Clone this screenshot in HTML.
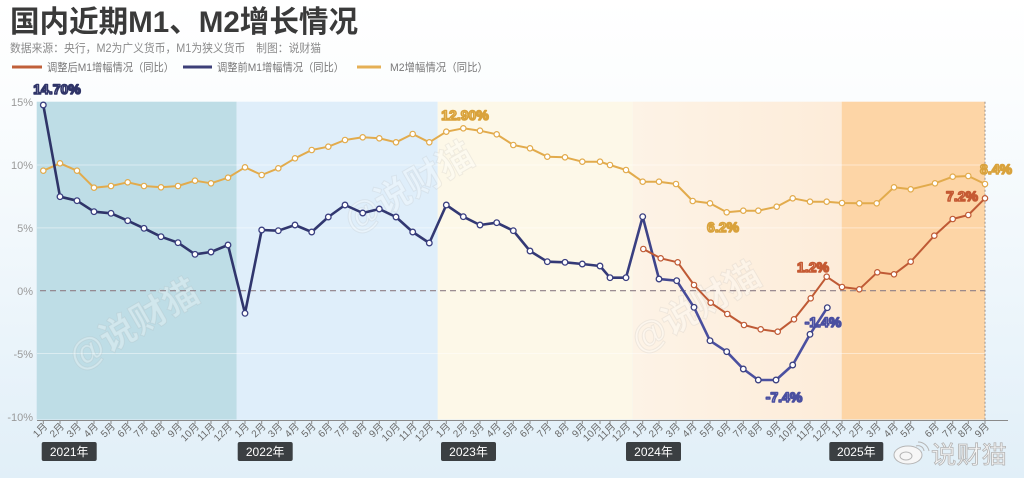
<!DOCTYPE html>
<html><head><meta charset="utf-8"><style>
html,body{margin:0;padding:0;width:1024px;height:478px;overflow:hidden;background:#fff}
svg{display:block;font-family:"Liberation Sans","Noto Sans CJK SC",sans-serif}
</style></head><body>
<svg width="1024" height="478" viewBox="0 0 1024 478" xmlns="http://www.w3.org/2000/svg">
<defs>
<linearGradient id="bg" x1="0" y1="0" x2="0" y2="1">
<stop offset="0" stop-color="#ffffff"/><stop offset="0.2" stop-color="#fbfdfe"/><stop offset="1" stop-color="#e1eff8"/>
</linearGradient>
<linearGradient id="g24" x1="0" y1="0" x2="1" y2="0">
<stop offset="0" stop-color="#fdf3e6"/><stop offset="1" stop-color="#fdecd9"/>
</linearGradient>
<linearGradient id="blu" x1="0" y1="0" x2="1024" y2="0" gradientUnits="userSpaceOnUse">
<stop offset="0" stop-color="#2e3366"/><stop offset="0.6" stop-color="#343a78"/><stop offset="0.68" stop-color="#4a4f9e"/><stop offset="1" stop-color="#4d52a6"/>
</linearGradient>
<marker id="mg" markerWidth="8" markerHeight="8" refX="4" refY="4" markerUnits="userSpaceOnUse"><circle cx="4" cy="4" r="2.7" fill="#fff" stroke="#e2ab4c" stroke-width="1.2"/></marker>
<marker id="mb" markerWidth="8" markerHeight="8" refX="4" refY="4" markerUnits="userSpaceOnUse"><circle cx="4" cy="4" r="2.8" fill="#fff" stroke="#3a3f80" stroke-width="1.3"/></marker>
<marker id="mr" markerWidth="8" markerHeight="8" refX="4" refY="4" markerUnits="userSpaceOnUse"><circle cx="4" cy="4" r="2.7" fill="#fff" stroke="#bf5a35" stroke-width="1.2"/></marker>
</defs>
<rect width="1024" height="478" fill="url(#bg)"/>

<!-- title -->
<text x="10" y="32" font-size="30" font-weight="bold" fill="#3a3a3a" textLength="348" lengthAdjust="spacingAndGlyphs">国内近期M1、M2增长情况</text>
<text x="10" y="52" font-size="11.5" fill="#8a8a8a" textLength="311" lengthAdjust="spacingAndGlyphs">数据来源：央行，M2为广义货币，M1为狭义货币　制图：说财猫</text>
<!-- legend -->
<line x1="12" y1="67" x2="42" y2="67" stroke="#c0603a" stroke-width="3"/>
<text x="47" y="71" font-size="11" fill="#777" textLength="127" lengthAdjust="spacingAndGlyphs">调整后M1增幅情况（同比）</text>
<line x1="183" y1="67" x2="212" y2="67" stroke="#3c3f78" stroke-width="3"/>
<text x="217" y="71" font-size="11" fill="#777" textLength="127" lengthAdjust="spacingAndGlyphs">调整前M1增幅情况（同比）</text>
<line x1="357" y1="67" x2="381" y2="67" stroke="#e5b055" stroke-width="3"/>
<text x="390" y="71" font-size="11" fill="#777" textLength="98" lengthAdjust="spacingAndGlyphs">M2增幅情况（同比）</text>

<!-- regions -->
<rect x="36.7" y="101.7" width="200" height="317.8" fill="#bedde6"/>
<rect x="236.7" y="101.7" width="201" height="317.8" fill="#dfeefa"/>
<rect x="437.7" y="101.7" width="195" height="317.8" fill="#fdf8e8"/>
<rect x="632.7" y="101.7" width="209" height="317.8" fill="url(#g24)"/>
<rect x="841.7" y="101.7" width="143.3" height="317.8" fill="#fdd5a6"/>

<!-- gridlines -->
<g stroke="#ffffff" stroke-opacity="0.45" stroke-width="1">
<line x1="37" y1="165" x2="985" y2="165"/>
<line x1="37" y1="227.9" x2="985" y2="227.9"/>
<line x1="37" y1="353.5" x2="985" y2="353.5"/>
</g>

<!-- watermarks -->
<g font-size="36" font-weight="bold" fill="#ffffff" fill-opacity="0.3" stroke="#8a8a8a" stroke-opacity="0.12" stroke-width="1">
<text transform="translate(140,335) rotate(-30)" text-anchor="middle">@说财猫</text>
<text transform="translate(415,198) rotate(-30)" text-anchor="middle">@说财猫</text>
<text transform="translate(702,318) rotate(-30)" text-anchor="middle">@说财猫</text>
</g>

<!-- zero line -->
<line x1="40" y1="290.7" x2="985" y2="290.7" stroke="#8e7f86" stroke-width="1.2" stroke-dasharray="6,4"/>
<!-- right dotted -->
<line x1="985" y1="101.7" x2="985" y2="420" stroke="#9a8f88" stroke-width="1" stroke-dasharray="2,2"/>

<!-- y labels -->
<g font-size="11" fill="#9a9a9a" text-anchor="end">
<text x="33" y="106">15%</text>
<text x="33" y="169">10%</text>
<text x="33" y="232">5%</text>
<text x="33" y="295">0%</text>
<text x="33" y="358">-5%</text>
<text x="33" y="421">-10%</text>
</g>

<!-- axis -->
<line x1="37" y1="420.5" x2="1008" y2="420.5" stroke="#8a8a8a" stroke-width="1"/>

<!-- M2 -->
<polyline fill="none" stroke="#e2ab4c" stroke-width="2" stroke-linejoin="round" marker-start="url(#mg)" marker-mid="url(#mg)" marker-end="url(#mg)" points="43.3,170.7 60,163.3 77,170.7 94,187.7 111,186 127.7,182.3 144,186 161,187.3 178,186 195,180.7 211,183.3 228,177.7 245,167.3 261.7,175 278.3,168.3 295,158.3 311.7,150 328.3,146.7 345,140 362.7,137.3 379.3,138.3 396,142.3 412.7,134 429.3,142.3 446.3,131.7 463.3,128.3 480,130.7 496.7,134.3 513.3,145 530,148.3 547.3,156.7 565,157.3 582.3,161.7 600,161.7 610,165 626,170 642.7,181.7 659,181.7 676,184 692.7,201 710,203.3 726.7,212.3 743.3,210.7 758.3,210.7 776.7,206.7 792.7,198.3 810,201.7 826.7,201.7 842,203 859.3,203.3 876.7,203.3 894,187.3 910.7,189.3 935,183.3 952.7,176.7 968.3,176 985,184"/>

<!-- M1 pre -->
<polyline fill="none" stroke="url(#blu)" stroke-width="2.6" stroke-linejoin="round" marker-start="url(#mb)" marker-mid="url(#mb)" marker-end="url(#mb)" points="43.3,105 60,196.7 77,200.7 94,211.7 111,213.3 127.7,220.7 144,228.3 161,236.7 178,242.7 195,254.3 211,252 228,245 245,313.3 261.7,230 278.3,230.7 295,225 311.7,232 328.3,217 345,205 362.7,213 379.3,209 396,217 412.7,232 429.3,243 446.3,205 463.3,216.7 480,225 496.7,222.7 513.3,230.7 530,251 547.3,261.7 565,262.3 582.3,264 600,266 610,277.7 626,277.7 642.7,216.7 659,279 676.7,280.7 694,307.3 710,340.7 726.7,351.7 743.3,369 758.3,380 776,380 792.7,365 810,334.3 827.3,307.7"/>

<!-- M1 adjusted -->
<polyline fill="none" stroke="#bf5a35" stroke-width="2" stroke-linejoin="round" marker-start="url(#mr)" marker-mid="url(#mr)" marker-end="url(#mr)" points="643.3,249 660.7,258.3 677.7,262.3 694,285 710.7,302.7 727.3,314 744,325 760.7,329.3 777.7,331.7 794,319.3 810.7,298.3 826.7,276.7 842,287 859.3,289.3 877.3,272.3 894,274.3 910.7,261.7 934.3,235.7 952.7,219 968.3,215 985,198.3"/>

<!-- data labels -->
<g font-size="14" font-weight="bold" text-anchor="middle" stroke-width="1.6" stroke-linejoin="round">
<text x="57" y="94" fill="#ecebf8" stroke="#2f3468">14.70%</text>
<text x="465" y="120" fill="#fdeec0" stroke="#d9a23c">12.90%</text>
<text x="723" y="232" fill="#fdeec0" stroke="#d9a23c">6.2%</text>
<text x="813" y="272" fill="#fde3d5" stroke="#c55a33">1.2%</text>
<text x="823" y="327" fill="#e7e7f8" stroke="#4a4fa0">-1.4%</text>
<text x="784" y="402" fill="#e7e7f8" stroke="#4a4fa0">-7.4%</text>
<text x="962" y="201" fill="#fde3d5" stroke="#c55a33">7.2%</text>
<text x="996" y="174" fill="#fdeec0" stroke="#d9a23c">8.4%</text>
</g>

<!-- ticks -->
<g stroke="#8a8a8a" stroke-width="1">
<path d="M43.3 420v4M60 420v4M77 420v4M94 420v4M111 420v4M127.7 420v4M144 420v4M161 420v4M178 420v4M195 420v4M211 420v4M228 420v4M245 420v4M261.7 420v4M278.3 420v4M295 420v4M311.7 420v4M328.3 420v4M345 420v4M362.7 420v4M379.3 420v4M396 420v4M412.7 420v4M429.3 420v4M446.3 420v4M463.3 420v4M480 420v4M496.7 420v4M513.3 420v4M530 420v4M547.3 420v4M565 420v4M582.3 420v4M600 420v4M610 420v4M626 420v4M642.7 420v4M659 420v4M676 420v4M692.7 420v4M710 420v4M726.7 420v4M743.3 420v4M758.3 420v4M776.7 420v4M792.7 420v4M810 420v4M826.7 420v4M842 420v4M859.3 420v4M876.7 420v4M894 420v4M910.7 420v4M935 420v4M952.7 420v4M968.3 420v4M985 420v4"/>
</g>

<!-- month labels -->
<g font-size="10" fill="#6a6a6a" text-anchor="end">
<text transform="translate(48,427) rotate(-45)">1月</text>
<text transform="translate(64.7,427) rotate(-45)">2月</text>
<text transform="translate(81.7,427) rotate(-45)">3月</text>
<text transform="translate(98.7,427) rotate(-45)">4月</text>
<text transform="translate(115.7,427) rotate(-45)">5月</text>
<text transform="translate(132.4,427) rotate(-45)">6月</text>
<text transform="translate(148.7,427) rotate(-45)">7月</text>
<text transform="translate(165.7,427) rotate(-45)">8月</text>
<text transform="translate(182.7,427) rotate(-45)">9月</text>
<text transform="translate(199.7,427) rotate(-45)">10月</text>
<text transform="translate(215.7,427) rotate(-45)">11月</text>
<text transform="translate(232.7,427) rotate(-45)">12月</text>
<text transform="translate(249.7,427) rotate(-45)">1月</text>
<text transform="translate(266.4,427) rotate(-45)">2月</text>
<text transform="translate(283,427) rotate(-45)">3月</text>
<text transform="translate(299.7,427) rotate(-45)">4月</text>
<text transform="translate(316.4,427) rotate(-45)">5月</text>
<text transform="translate(333,427) rotate(-45)">6月</text>
<text transform="translate(349.7,427) rotate(-45)">7月</text>
<text transform="translate(367.4,427) rotate(-45)">8月</text>
<text transform="translate(384,427) rotate(-45)">9月</text>
<text transform="translate(400.7,427) rotate(-45)">10月</text>
<text transform="translate(417.4,427) rotate(-45)">11月</text>
<text transform="translate(434,427) rotate(-45)">12月</text>
<text transform="translate(451,427) rotate(-45)">1月</text>
<text transform="translate(468,427) rotate(-45)">2月</text>
<text transform="translate(484.7,427) rotate(-45)">3月</text>
<text transform="translate(501.4,427) rotate(-45)">4月</text>
<text transform="translate(518,427) rotate(-45)">5月</text>
<text transform="translate(534.7,427) rotate(-45)">6月</text>
<text transform="translate(552,427) rotate(-45)">7月</text>
<text transform="translate(569.7,427) rotate(-45)">8月</text>
<text transform="translate(587,427) rotate(-45)">9月</text>
<text transform="translate(602,427) rotate(-45)">10月</text>
<text transform="translate(616,427) rotate(-45)">11月</text>
<text transform="translate(631,427) rotate(-45)">12月</text>
<text transform="translate(647.4,427) rotate(-45)">1月</text>
<text transform="translate(663.7,427) rotate(-45)">2月</text>
<text transform="translate(680.7,427) rotate(-45)">3月</text>
<text transform="translate(697.4,427) rotate(-45)">4月</text>
<text transform="translate(714.7,427) rotate(-45)">5月</text>
<text transform="translate(731.4,427) rotate(-45)">6月</text>
<text transform="translate(748,427) rotate(-45)">7月</text>
<text transform="translate(763,427) rotate(-45)">8月</text>
<text transform="translate(781.4,427) rotate(-45)">9月</text>
<text transform="translate(797.4,427) rotate(-45)">10月</text>
<text transform="translate(814.7,427) rotate(-45)">11月</text>
<text transform="translate(831.4,427) rotate(-45)">12月</text>
<text transform="translate(846.7,427) rotate(-45)">1月</text>
<text transform="translate(864,427) rotate(-45)">2月</text>
<text transform="translate(881.4,427) rotate(-45)">3月</text>
<text transform="translate(898.7,427) rotate(-45)">4月</text>
<text transform="translate(915.4,427) rotate(-45)">5月</text>
<text transform="translate(939.7,427) rotate(-45)">6月</text>
<text transform="translate(957.4,427) rotate(-45)">7月</text>
<text transform="translate(973,427) rotate(-45)">8月</text>
<text transform="translate(989.7,427) rotate(-45)">9月</text>
</g>

<!-- year badges -->
<g font-size="12" fill="#ffffff" text-anchor="middle">
<rect x="41.7" y="442" width="55" height="19" rx="2" fill="#3b3f42"/><text x="69.2" y="456">2021年</text>
<rect x="237.7" y="442" width="55" height="19" rx="2" fill="#3b3f42"/><text x="265.2" y="456">2022年</text>
<rect x="441" y="442" width="55" height="19" rx="2" fill="#3b3f42"/><text x="468.5" y="456">2023年</text>
<rect x="626" y="442" width="55" height="19" rx="2" fill="#3b3f42"/><text x="653.5" y="456">2024年</text>
<rect x="829.3" y="442" width="54" height="19" rx="2" fill="#3b3f42"/><text x="856.3" y="456">2025年</text>
</g>

<!-- weibo watermark -->
<g fill="#f6f6f6" stroke="#b5b5b5" stroke-width="1">
<ellipse cx="908" cy="455" rx="14" ry="9"/>
<ellipse cx="906" cy="456" rx="6" ry="4" fill="none"/>
<path d="M916 446 a6 6 0 0 1 8 5" fill="none"/>
<path d="M918 442 a11 11 0 0 1 11 9" fill="none"/>
<text x="931" y="463" font-size="24" textLength="76" lengthAdjust="spacingAndGlyphs" stroke-width="0.8">说财猫</text>
</g>
</svg>
</body></html>
